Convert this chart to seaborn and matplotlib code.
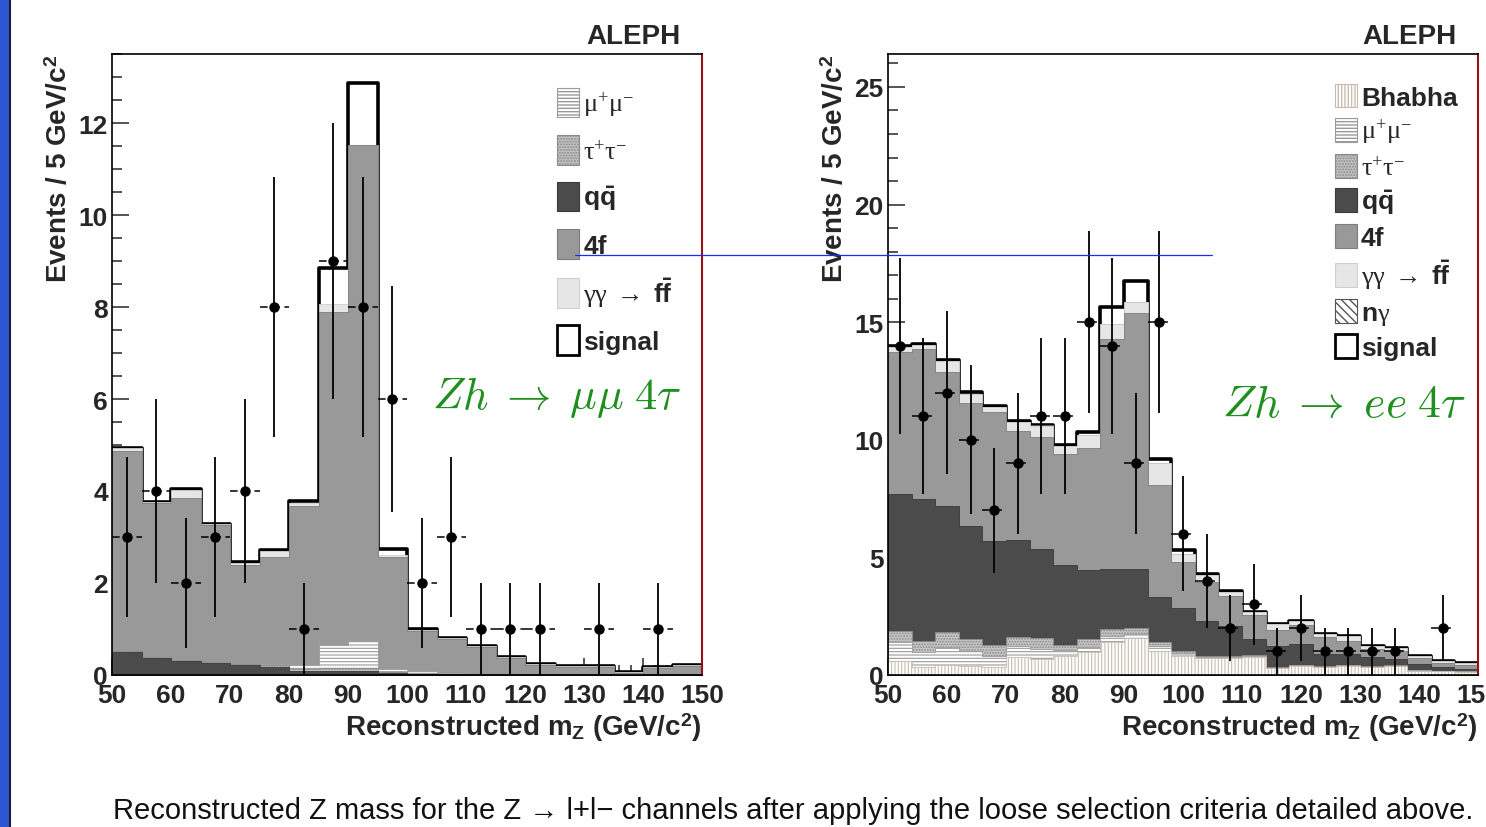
import numpy as np
import matplotlib
matplotlib.use("Agg")
import matplotlib.pyplot as plt
from matplotlib.patches import Patch, Rectangle
from matplotlib.lines import Line2D
from matplotlib.ticker import MultipleLocator
import seaborn as sns

# ALEPH Zh -> ll 4tau: reconstructed m_Z after the loose selection
# left panel: mu mu channel, 5 GeV bins ; right panel: e e channel, 4 GeV bins
edges_mumu = np.arange(50, 151, 5)
edges_ee = np.arange(50, 151, 4)

# ---- mu mu channel (bottom of stack first) ----
qq_mumu = [0.50, 0.37, 0.31, 0.26, 0.22, 0.18, 0.08, 0.08, 0.08, 0.04,
           0.03, 0.02, 0.02, 0.02, 0.02, 0.02, 0.02, 0.01, 0.02, 0.02]
tautau_mumu = [0.02, 0.02, 0.02, 0.02, 0.03, 0.04, 0.06, 0.08, 0.08, 0.03,
               0.02, 0.01, 0.01, 0.01, 0.01, 0.01, 0.01, 0.00, 0.01, 0.01]
mumu_mumu = [0.00, 0.00, 0.00, 0.00, 0.00, 0.02, 0.08, 0.50, 0.59, 0.06,
             0.03, 0.01, 0.00, 0.00, 0.00, 0.00, 0.00, 0.00, 0.00, 0.00]
fourf_mumu = [4.36, 3.36, 3.51, 2.99, 2.14, 2.32, 3.45, 7.23, 10.77, 2.43,
              0.88, 0.74, 0.57, 0.35, 0.19, 0.15, 0.15, 0.04, 0.13, 0.16]
gg_mumu = [0.05, 0.01, 0.19, 0.01, 0.05, 0.14, 0.07, 0.18, 0.01, 0.04,
           0.02, 0.02, 0.02, 0.02, 0.02, 0.02, 0.02, 0.01, 0.02, 0.02]
signal_mumu = [0.01, 0.01, 0.01, 0.01, 0.02, 0.01, 0.04, 0.78, 1.33, 0.14,
               0.01, 0.00, 0.00, 0.00, 0.00, 0.00, 0.00, 0.00, 0.00, 0.00]
data_mumu = [3, 4, 2, 3, 4, 8, 1, 9, 8, 6, 2, 3, 1, 1, 1, 0, 1, 0, 1, 0]

# ---- e e channel ----
bhabha_ee = [0.61, 0.33, 0.44, 0.40, 0.33, 0.75, 0.68, 0.82, 0.96, 1.42, 1.56, 1.03, 0.80,
             0.71, 0.72, 0.78, 0.28, 0.40, 0.33, 0.40, 0.33, 0.37, 0.19, 0.15, 0.13]
mumu_ee = [0.78, 0.63, 0.74, 0.63, 0.49, 0.50, 0.42, 0.23, 0.24, 0.25, 0.18, 0.22, 0.15,
           0.04, 0.04, 0.02, 0.02, 0.02, 0.02, 0.02, 0.02, 0.02, 0.02, 0.02, 0.02]
tautau_ee = [0.49, 0.47, 0.66, 0.50, 0.47, 0.35, 0.46, 0.23, 0.31, 0.29, 0.26, 0.17, 0.08,
             0.05, 0.04, 0.03, 0.02, 0.02, 0.02, 0.02, 0.02, 0.02, 0.01, 0.01, 0.01]
qq_ee = [5.82, 6.05, 5.36, 4.82, 4.39, 4.15, 3.80, 3.41, 2.95, 2.55, 2.51, 1.91, 1.80,
         1.51, 1.30, 0.70, 0.93, 0.88, 0.52, 0.45, 0.38, 0.27, 0.25, 0.15, 0.10]
fourf_ee = [6.02, 6.38, 5.70, 5.20, 5.49, 4.61, 4.74, 4.71, 5.19, 9.78, 10.87, 4.76, 1.99,
            1.64, 1.27, 1.02, 0.68, 0.81, 0.71, 0.57, 0.35, 0.36, 0.24, 0.18, 0.17]
gg_ee = [0.23, 0.19, 0.46, 0.40, 0.23, 0.38, 0.47, 0.32, 0.55, 0.63, 0.49, 0.91, 0.34,
         0.30, 0.17, 0.11, 0.24, 0.18, 0.14, 0.21, 0.15, 0.11, 0.08, 0.10, 0.08]
ngamma_ee = [0.00, 0.00, 0.00, 0.00, 0.00, 0.02, 0.05, 0.03, 0.00, 0.00, 0.00, 0.00, 0.00,
             0.00, 0.00, 0.00, 0.00, 0.00, 0.00, 0.00, 0.00, 0.00, 0.00, 0.00, 0.00]
signal_ee = [0.05, 0.02, 0.02, 0.10, 0.02, 0.05, 0.02, 0.04, 0.12, 0.71, 0.89, 0.18, 0.14,
             0.03, 0.02, 0.00, 0.00, 0.00, 0.00, 0.00, 0.00, 0.00, 0.00, 0.00, 0.00]
data_ee = [14, 11, 12, 10, 7, 9, 11, 11, 15, 14, 9, 15, 6,
           4, 2, 3, 1, 2, 1, 1, 1, 1, 0, 2, 0]

# ---- styles (ROOT-like greys and hatches) ----
STY = {
    "bhabha": dict(fc="white", ec="#c9bcae", lw=0.6, hatch="|||||", hc="#c2b2a2"),
    "mumu": dict(fc="white", ec="#9a9a9a", lw=0.6, hatch="-----", hc="#a0a0a0"),
    "tautau": dict(fc="#c4c4c4", ec="#8a8a8a", lw=0.6, hatch="......", hc="#7a7a7a"),
    "qq": dict(fc="#4b4b4b", ec="#3a3a3a", lw=0.6),
    "fourf": dict(fc="#999999", ec="#7d7d7d", lw=0.6),
    "gg": dict(fc="#e6e6e6", ec="#cfcfcf", lw=0.6),
    "ngamma": dict(fc="white", ec="#555555", lw=0.6, hatch="\\\\\\\\", hc="#444444"),
    "signal": dict(fc="white", ec="black", lw=2.6),
}

sns.set_style("ticks")
plt.rcParams["font.family"] = ["Liberation Sans", "DejaVu Sans"]
plt.rcParams["font.weight"] = "bold"
plt.rcParams["mathtext.fontset"] = "custom"
plt.rcParams["mathtext.rm"] = "Liberation Serif:weight=normal"
plt.rcParams["mathtext.it"] = "Liberation Serif:slant=italic:weight=normal"
plt.rcParams["mathtext.bf"] = "Liberation Sans:weight=bold"
plt.rcParams["mathtext.sf"] = "Liberation Sans:weight=normal"


def draw_stack(ax, edges, layers):
    centers = (edges[:-1] + edges[1:]) / 2
    tops = np.cumsum([vals for vals, _ in layers], axis=0)
    # ROOT paints the full stack first and covers it with the lower sums
    for top, (_, key) in reversed(list(zip(tops, layers))):
        st = STY[key]
        with plt.rc_context({"hatch.color": st.get("hc", "black"), "hatch.linewidth": 0.8}):
            sns.histplot(x=centers, weights=top, bins=list(edges), element="step", fill=True,
                         alpha=1, facecolor=st["fc"], edgecolor=st["ec"],
                         linewidth=st["lw"], ax=ax)
            if st.get("hatch"):
                ax.collections[-1].set_hatch(st["hatch"])


def draw_data(ax, edges, counts):
    centers = (edges[:-1] + edges[1:]) / 2
    half = (edges[1] - edges[0]) / 2
    counts = np.asarray(counts, dtype=float)
    m = counts > 0
    ax.errorbar(centers[m], counts[m], yerr=np.sqrt(counts[m]), fmt="o", color="black",
                ms=6.5, elinewidth=1.3, capsize=0, zorder=6)
    eb = ax.errorbar(centers[m], counts[m], xerr=half, fmt="none", ecolor="black",
                     elinewidth=1.1, capsize=0, zorder=5)
    eb[2][0].set_linestyle((0, (5, 3)))


def style_axes(ax, ymax, ymaj, ymin):
    ax.set_xlim(50, 150)
    ax.set_ylim(0, ymax)
    ax.xaxis.set_major_locator(MultipleLocator(10))
    ax.xaxis.set_minor_locator(MultipleLocator(2))
    ax.yaxis.set_major_locator(MultipleLocator(ymaj))
    ax.yaxis.set_minor_locator(MultipleLocator(ymin))
    ax.tick_params(which="both", direction="in", top=False, right=False,
                   labelsize=19, pad=3, width=1.1)
    ax.tick_params(axis="x", which="both", pad=6)
    ax.tick_params(which="major", length=12)
    ax.tick_params(which="minor", length=7)
    for side in ["left", "bottom", "top"]:
        ax.spines[side].set_color("black")
        ax.spines[side].set_linewidth(1.2)
    ax.spines["right"].set_color("#9a0f0f")
    ax.spines["right"].set_linewidth(1.5)
    ax.set_xlabel(r"Reconstructed m$_{\mathbf{Z}}$ (GeV/c$^{\mathbf{2}}$)",
                  fontsize=20, fontweight="bold", loc="right")
    ax.xaxis.set_label_coords(1.0, -0.057)
    ax.set_ylabel(r"Events / 5 GeV/c$^{\mathbf{2}}$", fontsize=20, fontweight="bold", loc="top")
    ax.yaxis.set_label_coords(-0.066, 1.0)
    ax.text(0.963, 1.018, "ALEPH", transform=ax.transAxes, ha="right", va="baseline",
            fontsize=20, fontweight="bold")


def legend_handle(key):
    st = STY[key]
    lw = 2.0 if key == "signal" else 0.8
    return Patch(facecolor=st["fc"], edgecolor=st["ec"] if key != "signal" else "black",
                 hatch=st.get("hatch"), linewidth=lw)


LABELS = {
    "bhabha": "Bhabha",
    "mumu": r"$\mathrm{\mu^{+}\mu^{-}}$",
    "tautau": r"$\mathrm{\tau^{+}\tau^{-}}$",
    "qq": r"$\mathbf{q\bar{q}}$",
    "fourf": "4f",
    "gg": r"$\mathrm{\gamma\gamma}\ \rightarrow\ \mathbf{f\bar{f}}$",
    "ngamma": r"$\mathbf{n}\mathrm{\gamma}$",
    "signal": "signal",
}

fig = plt.figure(figsize=(14.86, 8.28), dpi=100)
ax1 = fig.add_axes([112 / 1486, 1 - 676 / 828, 590 / 1486, 621 / 828])
ax2 = fig.add_axes([888 / 1486, 1 - 676 / 828, 590 / 1486, 621 / 828])

# left: mu mu channel
draw_stack(ax1, edges_mumu, [(qq_mumu, "qq"), (tautau_mumu, "tautau"), (mumu_mumu, "mumu"),
                             (fourf_mumu, "fourf"), (gg_mumu, "gg"), (signal_mumu, "signal")])
draw_data(ax1, edges_mumu, data_mumu)
style_axes(ax1, 13.5, 2, 0.5)
keys1 = ["mumu", "tautau", "qq", "fourf", "gg", "signal"]
hs = [legend_handle(k) for k in keys1]
ax1.legend(hs, [LABELS[k] for k in keys1], loc="upper left", bbox_to_anchor=(0.754, 0.946),
           frameon=False, borderpad=0, borderaxespad=0, handlelength=0.85,
           handleheight=1.35, handletextpad=0.15, labelspacing=0.63,
           prop={"weight": "bold", "size": 19})
ax1.text(0.542, 0.448, r"$Zh\;\rightarrow\;\mu\mu\;4\tau$", transform=ax1.transAxes,
         fontsize=32, color="#1f8f1f", math_fontfamily="cm", va="center", ha="left")

# right: e e channel
draw_stack(ax2, edges_ee, [(bhabha_ee, "bhabha"), (mumu_ee, "mumu"), (tautau_ee, "tautau"),
                           (qq_ee, "qq"), (fourf_ee, "fourf"), (gg_ee, "gg"),
                           (ngamma_ee, "ngamma"), (signal_ee, "signal")])
draw_data(ax2, edges_ee, data_ee)
style_axes(ax2, 26.4, 5, 1)
keys2 = ["bhabha", "mumu", "tautau", "qq", "fourf", "gg", "ngamma", "signal"]
hs = [legend_handle(k) for k in keys2]
ax2.legend(hs, [LABELS[k] for k in keys2], loc="upper left", bbox_to_anchor=(0.757, 0.952),
           frameon=False, borderpad=0, borderaxespad=0, handlelength=0.85,
           handleheight=1.0, handletextpad=0.15, labelspacing=0.29,
           prop={"weight": "bold", "size": 19})
ax2.text(0.566, 0.436, r"$Zh\;\rightarrow\;ee\;4\tau$", transform=ax2.transAxes,
         fontsize=33, color="#1f8f1f", math_fontfamily="cm", va="center", ha="left")

# slide decorations: blue side bar, stray blue marker line, caption
fig.add_artist(Rectangle((0, 0), 9 / 1486, 1, transform=fig.transFigure,
                         facecolor="#2b56d0", edgecolor="none"))
fig.add_artist(Line2D([9.5 / 1486, 9.5 / 1486], [0, 1], transform=fig.transFigure,
                      color="#1b1b3a", lw=1.5))
fig.add_artist(Line2D([575 / 1486, 1212 / 1486], [1 - 256 / 828, 1 - 256 / 828],
                      transform=fig.transFigure, color="#1a2cff", lw=0.9, zorder=10))
fig.text(793 / 1486, 1 - 811 / 828,
         "Reconstructed Z mass for the Z \u2192 l+l\u2212 channels after applying the loose "
         "selection criteria detailed above.",
         ha="center", va="center", fontsize=21, fontweight="normal", color="#111111")

fig.savefig("out.png", dpi=100)
